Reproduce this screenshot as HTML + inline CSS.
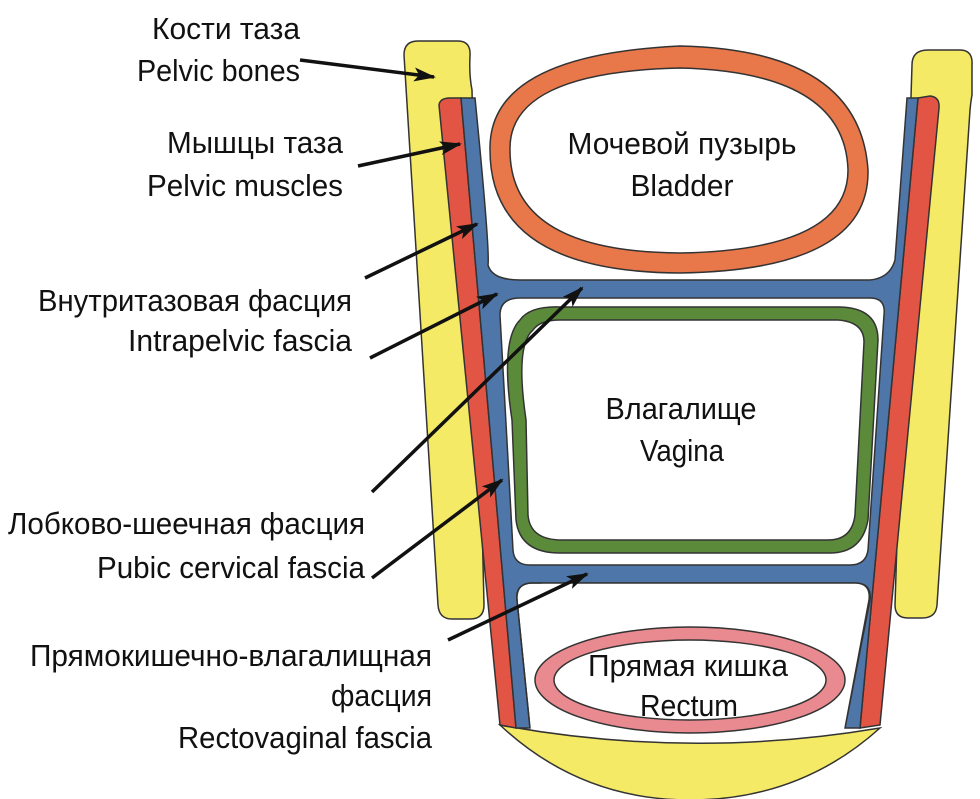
<!DOCTYPE html>
<html><head><meta charset="utf-8"><style>
html,body{margin:0;padding:0;background:#fff}
svg{display:block}
text{font-family:"Liberation Sans",sans-serif;font-size:31px;fill:#111}
</style></head><body>
<svg width="980" height="799" viewBox="0 0 980 799" xmlns="http://www.w3.org/2000/svg">
<defs><marker id="a" markerWidth="22" markerHeight="14" refX="20" refY="7" orient="auto" markerUnits="userSpaceOnUse"><path d="M0,0 L22,7 L0,14 L5,7 Z" fill="#111"/></marker></defs>
<g stroke="#333" stroke-width="1.5">
<path d="M404,55 Q404,41 418,41 L458,41 Q471,41 470,56 Q469,75 472,90 L484,605 Q484,619 470,619 L452,619 Q439,619 438,605 Z" fill="#f4ea66"/>
<path d="M912,65 Q912,50 928,50 L960,50 Q973,50 972,65 L972,95 Q971,100 970,110 L937,605 Q936,618 922,618 L908,618 Q895,618 895,605 Z" fill="#f4ea66"/>
<path d="M500,725 Q690,760 880,728 Q800,800 690,800 Q580,800 500,725 Z" fill="#f4ea66"/>
<path d="M439,105 Q440,98 450,98 L461,98 L516,728 L500,725 Z" fill="#e25544"/>
<path d="M918,98 L930,96 Q940,97 939,108 L880,725 L860,728 Z" fill="#e25544"/>
<path d="M461,98 L475,98 Q490,250 488,265 Q492,280 520,280 L870,280 Q890,278 895,260 L907,98 L918,98 L860,728 L845,728 L870,600 Q872,583 855,583 L530,583 Q515,585 517,600 L530,728 L516,728 Z" fill="#4f76a8"/>
<path d="M500,315 Q500,298 520,298 L870,298 Q886,298 884,315 L868,550 Q866,565 850,565 L530,565 Q514,565 513,550 Z" fill="#fff"/>
<path d="M530,600 Q530,583 548,583 L855,583 Q870,583 868,600 L845,728 Q690,745 530,728 Z" fill="#fff" stroke="none"/>
<path d="M530,728 L517,600 Q516,583 532,583 L855,583 Q871,583 869,600 L845,728" fill="none"/>
</g>
<g stroke="#333" stroke-width="1.5">
<path d="M490,150 Q488,55 680,46 Q860,50 868,170 Q870,270 680,273 Q490,272 490,150 Z" fill="#e8774a"/>
<path d="M510,150 Q508,72 680,68 Q845,72 848,170 Q848,250 680,253 Q510,252 510,150 Z" fill="#fff"/>
<path d="M520,320 Q530,306 560,307 L840,307 Q878,308 878,340 L868,520 Q862,553 830,553 L560,553 Q520,553 516,520 L512,420 Q500,340 520,320 Z" fill="#5b8b3a"/>
<path d="M533,330 Q540,320 560,320 L838,320 Q864,322 864,342 L855,515 Q852,540 828,540 L562,540 Q530,540 528,515 L526,420 Q515,345 533,330 Z" fill="#fff"/>
<ellipse cx="690" cy="680" rx="155" ry="53" fill="#e88a90"/>
<ellipse cx="690" cy="680" rx="136" ry="40" fill="#fff"/>
</g>
<g stroke="#111" stroke-width="3.5" marker-end="url(#a)">
<line x1="300" y1="60" x2="434" y2="77"/>
<line x1="358" y1="166" x2="460" y2="144"/>
<line x1="365" y1="278" x2="477" y2="224"/>
<line x1="370" y1="358" x2="497" y2="294"/>
<line x1="372" y1="492" x2="582" y2="288"/>
<line x1="372" y1="578" x2="502" y2="480"/>
<line x1="448" y1="640" x2="587" y2="574"/>
</g>
<g text-anchor="end" lengthAdjust="spacingAndGlyphs">
<text x="300" y="39" textLength="148" lengthAdjust="spacingAndGlyphs">Кости таза</text>
<text x="300" y="81" textLength="163" lengthAdjust="spacingAndGlyphs">Pelvic bones</text>
<text x="343" y="153" textLength="176" lengthAdjust="spacingAndGlyphs">Мышцы таза</text>
<text x="343" y="196" textLength="196" lengthAdjust="spacingAndGlyphs">Pelvic muscles</text>
<text x="352" y="311" textLength="314" lengthAdjust="spacingAndGlyphs">Внутритазовая фасция</text>
<text x="352" y="351" textLength="224" lengthAdjust="spacingAndGlyphs">Intrapelvic fascia</text>
<text x="365" y="534" textLength="357" lengthAdjust="spacingAndGlyphs">Лобково-шеечная фасция</text>
<text x="365" y="578" textLength="268" lengthAdjust="spacingAndGlyphs">Pubic cervical fascia</text>
<text x="432" y="666" textLength="402" lengthAdjust="spacingAndGlyphs">Прямокишечно-влагалищная</text>
<text x="432" y="706" textLength="101" lengthAdjust="spacingAndGlyphs">фасция</text>
<text x="432" y="748" textLength="254" lengthAdjust="spacingAndGlyphs">Rectovaginal fascia</text>
</g>
<g text-anchor="middle">
<text x="682" y="154" textLength="229" lengthAdjust="spacingAndGlyphs">Мочевой пузырь</text>
<text x="682" y="196" textLength="103" lengthAdjust="spacingAndGlyphs">Bladder</text>
<text x="681" y="419" textLength="151" lengthAdjust="spacingAndGlyphs">Влагалище</text>
<text x="682" y="461" textLength="84" lengthAdjust="spacingAndGlyphs">Vagina</text>
<text x="688" y="676" textLength="200" lengthAdjust="spacingAndGlyphs">Прямая кишка</text>
<text x="689" y="716" textLength="98" lengthAdjust="spacingAndGlyphs">Rectum</text>
</g>
</svg>
</body></html>
